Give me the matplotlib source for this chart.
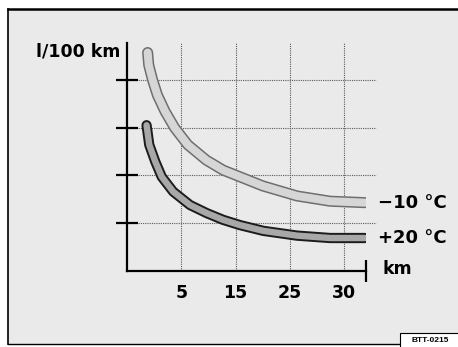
import matplotlib
matplotlib.use("Agg")
import matplotlib.pyplot as plt
from matplotlib.lines import Line2D
from matplotlib.patches import Rectangle

# ---- data -------------------------------------------------------------
# x positions are in tick units: tick 1..4 carry the km labels below
x_tick_pos = [1, 2, 3, 4]
x_labels = ["5", "15", "25", "30"]
y_tick_pos = [1, 2, 3, 4]

cold_label = "\u221210 \u00b0C"
cold_x = [0.38, 0.40, 0.47, 0.56, 0.70, 0.88, 1.12, 1.46, 1.77, 2.08, 2.50, 3.13, 3.74, 4.38]
cold_y = [4.57, 4.31, 4.00, 3.68, 3.34, 2.99, 2.64, 2.32, 2.11, 1.97, 1.78, 1.57, 1.46, 1.43]

warm_label = "+20 \u00b0C"
warm_x = [0.36, 0.41, 0.52, 0.64, 0.85, 1.16, 1.47, 1.77, 2.08, 2.51, 3.13, 3.74, 4.38]
warm_y = [3.05, 2.64, 2.29, 1.97, 1.66, 1.38, 1.21, 1.07, 0.96, 0.84, 0.74, 0.69, 0.69]

# ---- figure -----------------------------------------------------------
W, H = 458, 347
fig = plt.figure(figsize=(W / 100, H / 100), dpi=100, facecolor="white")


def fx(px):
    return px / W


def fy(py):
    return 1 - py / H


# stippled panel and its frame
fig.patches.append(Rectangle((fx(8), fy(344)), fx(460) - fx(8), fy(9) - fy(344),
                             transform=fig.transFigure, facecolor="#eaeaea",
                             edgecolor="none", zorder=-2))
fig.add_artist(Line2D([fx(8), fx(8)], [fy(9), fy(344)], color="black", lw=1.2))
fig.add_artist(Line2D([fx(8), fx(460)], [fy(9), fy(9)], color="black", lw=1.8))
fig.add_artist(Line2D([fx(8), fx(460)], [fy(344), fy(344)], color="black", lw=1.0))

ax = fig.add_axes([fx(127), fy(271), fx(366) - fx(127), fy(43) - fy(271)])
ax.set_zorder(1)
ax.set_facecolor("none")
ax.set_xlim(0, 4.40)
ax.set_ylim(0, 4.77)

for s in ("top", "right"):
    ax.spines[s].set_visible(False)
for s in ("left", "bottom"):
    ax.spines[s].set_linewidth(1.6)
    ax.spines[s].set_color("black")

ax.set_xticks(x_tick_pos, labels=x_labels)
ax.tick_params(axis="x", length=0, pad=9, labelsize=12.5)
for t in ax.get_xticklabels():
    t.set_fontweight("bold")
ax.set_yticks(y_tick_pos, labels=[""] * len(y_tick_pos))
ax.tick_params(axis="y", direction="inout", length=16.5, width=1.6, color="black")

# dotted grid
grid_kw = dict(color="#5a5a5a", lw=0.8, linestyle=(0, (1, 1)), zorder=1)
ax.vlines(x_tick_pos, 0, 4.77, **grid_kw)
ax.hlines(y_tick_pos, 0, 4.59, clip_on=False, **grid_kw)

# cross at the end of the km axis
xe = ax.get_xlim()[1]
ax.plot([xe, xe], [-0.24, 0.22], color="black", lw=1.6, clip_on=False,
        solid_capstyle="butt")

# tube-like curves
ax.plot(cold_x, cold_y, color="#6e6e6e", lw=8.0, solid_capstyle="round",
        solid_joinstyle="round", zorder=3)
ax.plot(cold_x, cold_y, color="#d6d6d6", lw=5.8, solid_capstyle="round",
        solid_joinstyle="round", zorder=4)
ax.plot(warm_x, warm_y, color="#1c1c1c", lw=7.4, solid_capstyle="round",
        solid_joinstyle="round", zorder=3)
ax.plot(warm_x, warm_y, color="#a8a8a8", lw=4.6, solid_capstyle="round",
        solid_joinstyle="round", zorder=4)

for xs, ys, lab in ((cold_x, cold_y, cold_label), (warm_x, warm_y, warm_label)):
    ax.annotate(lab, (xs[-1], ys[-1]), xytext=(9.5, 0), textcoords="offset points",
                ha="left", va="center", fontsize=13, fontweight="bold",
                annotation_clip=False)

fig.text(fx(120), fy(51), "l/100 km", ha="right", va="center",
         fontsize=12.5, fontweight="bold")
fig.text(fx(383), fy(269.5), "km", ha="left", va="center",
         fontsize=12.5, fontweight="bold")

# figure code box
fig.patches.append(Rectangle((fx(400), fy(349)), fx(462) - fx(400), fy(333) - fy(349),
                             transform=fig.transFigure, facecolor="white",
                             edgecolor="black", lw=0.8, zorder=5))
fig.text(fx(430), fy(340.5), "BTT-0215", ha="center", va="center", fontsize=6,
         fontweight="bold", family="Liberation Sans", zorder=6)

fig.savefig("out.png", dpi=100, facecolor="white")
